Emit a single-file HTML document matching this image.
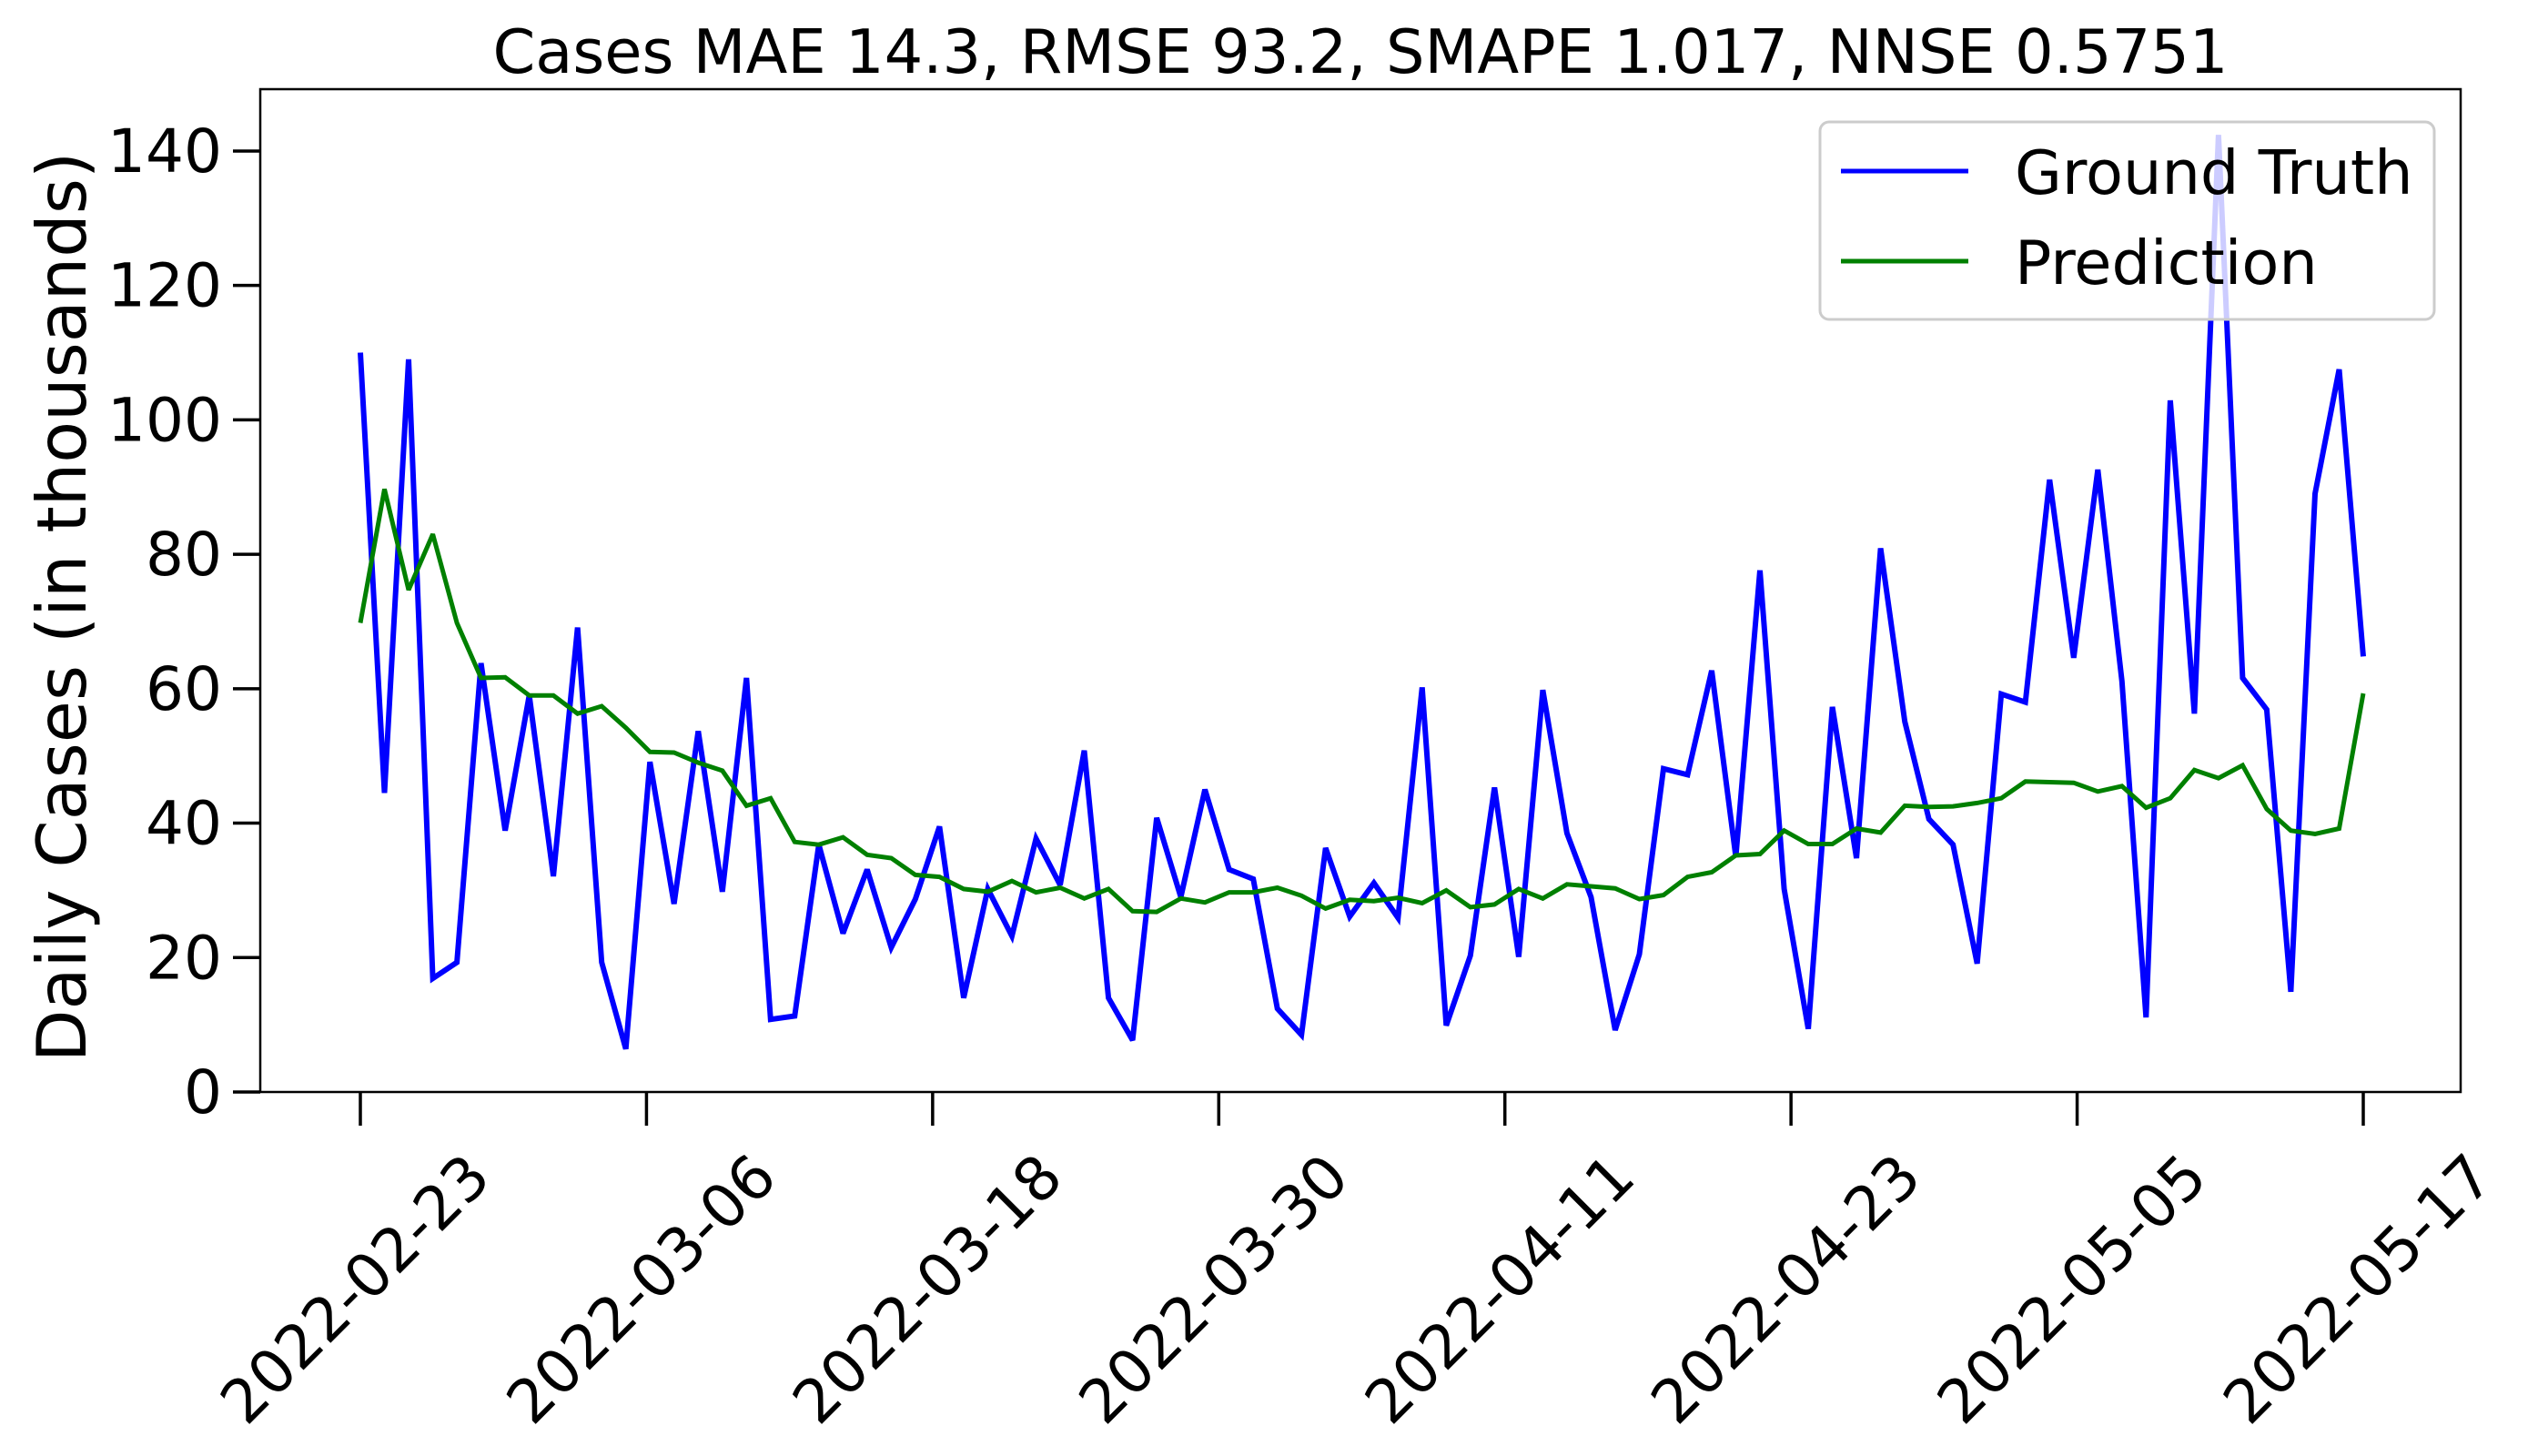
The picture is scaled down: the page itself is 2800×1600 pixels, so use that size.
<!DOCTYPE html>
<html><head><meta charset="utf-8"><style>
html,body{margin:0;padding:0;background:#fff;}
svg{display:block;font-family:"DejaVu Sans","Liberation Sans",sans-serif;}
</style></head><body>
<svg id="chart" width="2800" height="1600" viewBox="0 0 2800 1600" xmlns="http://www.w3.org/2000/svg">
<rect x="0" y="0" width="2800" height="1600" fill="#fff"/>
<text x="1495" y="80" font-size="67" text-anchor="middle">Cases MAE 14.3, RMSE 93.2, SMAPE 1.017, NNSE 0.5751</text>
<text transform="translate(94,667) rotate(-90)" font-size="75" text-anchor="middle">Daily Cases (in thousands)</text>
<g id="plot"></g>
<rect x="286" y="98" width="2418" height="1102" fill="none" stroke="#000" stroke-width="2.5"/>
<g>
<rect x="2000" y="134" width="675" height="217" rx="10" fill="#fff" fill-opacity="0.8" stroke="#ccc" stroke-width="3"/>
<line x1="2023" y1="188" x2="2163" y2="188" stroke="#0000ff" stroke-width="5"/>
<text x="2214" y="213" font-size="67">Ground Truth</text>
<line x1="2023" y1="287" x2="2163" y2="287" stroke="#008000" stroke-width="5"/>
<text x="2214" y="312" font-size="67">Prediction</text>
</g>
</svg>
<script>
const groundTruth = [110,44.5,109,16.9,19.3,63.8,38.9,59,32.1,69.1,19.3,6.4,49.1,28,53.7,29.8,61.6,10.8,11.3,36.8,23.6,33.1,21.5,28.7,39.5,14,30.2,23.2,37.7,30.8,50.8,14,7.7,40.8,29,45,33.1,31.7,12.4,8.5,36.3,26.1,31.1,25.9,60.2,9.9,20.3,45.3,20.1,59.8,38.5,29,9.2,20.5,48.1,47.2,62.7,35,77.6,30.2,9.4,57.3,34.8,80.9,55.1,40.6,36.8,19.1,59.2,58,91.1,64.6,92.6,61.1,11.1,102.9,56.3,142.4,61.6,56.9,14.9,89,107.5,64.8];
const prediction = [69.8,89.7,74.7,83,69.8,61.6,61.7,59,59,56.3,57.4,54.2,50.6,50.5,49,47.8,42.6,43.7,37.2,36.8,37.9,35.3,34.8,32.3,32,30.2,29.8,31.4,29.7,30.4,28.8,30.2,26.9,26.8,28.8,28.2,29.7,29.7,30.4,29.2,27.3,28.6,28.4,28.9,28.1,30,27.5,27.9,30.2,28.8,30.9,30.6,30.3,28.7,29.3,32,32.7,35.2,35.4,38.9,36.9,36.9,39.2,38.6,42.6,42.4,42.5,43,43.7,46.2,46.1,46,44.7,45.5,42.3,43.7,47.9,46.7,48.6,42.1,38.9,38.4,39.2,59.3];
const xTickLabels = ["2022-02-23","2022-03-06","2022-03-18","2022-03-30","2022-04-11","2022-04-23","2022-05-05","2022-05-17"];
const yTickValues = [0,20,40,60,80,100,120,140];

const NS = "http://www.w3.org/2000/svg";
const plot = document.getElementById('plot');
const n = groundTruth.length;
const X0 = 396, X1 = 2597, Y0 = 1200, YS = 7.386;
function xScale(i){ return X0 + (X1 - X0) * i / (n - 1); }
function xTickPos(k){ return X0 + (X1 - X0) * k / (xTickLabels.length - 1); }
function yScale(v){ return Y0 - v * YS; }
function mk(tag, attrs){ const e = document.createElementNS(NS, tag); for (const k in attrs) e.setAttribute(k, attrs[k]); plot.appendChild(e); return e; }

yTickValues.forEach(v => {
  const y = yScale(v);
  const t = mk('line', {x1: 256, y1: y, x2: 286, y2: y, stroke: '#000', 'stroke-width': 3.5});
  
  
  const l = mk('text', {x: 244, y: y + 23, 'font-size': 66, 'text-anchor': 'end'});
  l.textContent = v;
  
  
});
xTickLabels.forEach((lab, k) => {
  const x = xTickPos(k);
  const t = mk('line', {x1: x, y1: 1200, x2: x, y2: 1237, stroke: '#000', 'stroke-width': 3.5});
  
  
  const l = mk('text', {transform: 'translate(' + (x + 146) + ',1297) rotate(-45)', 'font-size': 66, 'text-anchor': 'end'});
  l.textContent = lab;
  
  
});
function series(arr, color, w, name){
  const p = mk('polyline', {points: arr.map((v, i) => xScale(i).toFixed(1) + ',' + yScale(v).toFixed(1)).join(' '), fill: 'none', stroke: color, 'stroke-width': w, 'stroke-linejoin': 'miter', 'stroke-miterlimit': 3});
  
  
}
series(groundTruth, '#0000ff', 6, 'ground-truth-line');
series(prediction, '#008000', 5, 'prediction-line');
</script>
</body></html>
